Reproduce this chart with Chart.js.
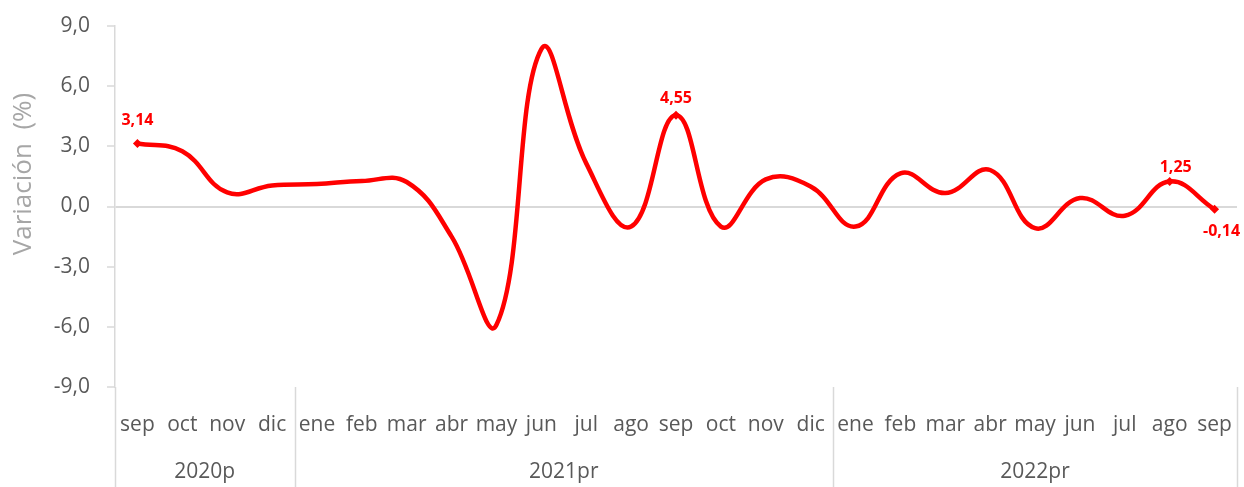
<!DOCTYPE html>
<html>
<head>
<meta charset="utf-8">
<script src="https://cdn.jsdelivr.net/npm/chart.js@4.4.0/dist/chart.umd.min.js"></script>
<style>
  html, body { margin: 0; padding: 0; background: #fff; }
  #wrap { width: 1244px; height: 487px; }
</style>
</head>
<body>
<div id="wrap"><canvas id="line-chart" width="1244" height="487"></canvas></div>
<script>
// meses (sep 2020 - sep 2022)
const months = [
  "sep", "oct", "nov", "dic",
  "ene", "feb", "mar", "abr", "may", "jun", "jul", "ago", "sep", "oct", "nov", "dic",
  "ene", "feb", "mar", "abr", "may", "jun", "jul", "ago", "sep",
];
// grupos de años: [etiqueta, cantidad de meses]
const years = ["2020p", "2021pr", "2022pr"];
const yearCounts = [4, 12, 9];

// variación mensual (%)
const variation = [
  3.14, 2.75, 0.7, 1.05,
  1.12, 1.27, 1.22, -1.5, -5.9, 7.85, 2.15, -1.0, 4.55, -1.0, 1.35, 1.0,
  -1.0, 1.65, 0.67, 1.82, -1.08, 0.42, -0.46, 1.25, -0.14,
];
// puntos con etiqueta
const labeledIdx = [0, 12, 23, 24];

const yTicks = [-9, -6, -3, 0, 3, 6, 9];

const RED = "#ff0000";
const GRID = "#d9d9d9";
const TEXT = "#595959";
const FONT = "'Open Sans', 'Noto Sans', sans-serif";

const fmt = (v, d) => v.toFixed(d).replace(".", ",");

// etiquetas de datos, ejes de grupo y título del eje
const extrasPlugin = {
  id: "extras",
  afterDraw(chart) {
    const ctx = chart.ctx;
    const area = chart.chartArea;
    const x = chart.scales.x;
    const bottom = chart.height;

    ctx.save();
    // líneas separadoras de la categoría multinivel
    ctx.strokeStyle = GRID;
    ctx.lineWidth = 1.5;
    const seps = [area.left];
    let acc = 0;
    yearCounts.forEach((n, i) => {
      acc += n;
      if (i < yearCounts.length - 1) {
        seps.push((x.getPixelForValue(acc - 1) + x.getPixelForValue(acc)) / 2);
      }
    });
    seps.push(area.right);
    seps.forEach((sx) => {
      ctx.beginPath();
      ctx.moveTo(Math.round(sx) + 0.5, area.bottom);
      ctx.lineTo(Math.round(sx) + 0.5, bottom);
      ctx.stroke();
    });

    // años
    ctx.fillStyle = TEXT;
    ctx.font = "21px " + FONT;
    ctx.textAlign = "center";
    ctx.textBaseline = "middle";
    for (let i = 0; i < years.length; i++) {
      ctx.fillText(years[i], (seps[i] + seps[i + 1]) / 2, 472);
    }

    // título eje Y
    ctx.save();
    ctx.translate(24, 174);
    ctx.rotate(-Math.PI / 2);
    ctx.fillStyle = "#a6a6a6";
    ctx.font = "26px " + FONT;
    ctx.fillText("Variación  (%)", 0, 0);
    ctx.restore();

    // etiquetas de datos
    const meta = chart.getDatasetMeta(0);
    const offsets = { 0: [0, -23], 12: [0, -17], 23: [6, -14], 24: [7, 22] };
    ctx.fillStyle = RED;
    ctx.font = "bold 16px " + FONT;
    labeledIdx.forEach((i) => {
      const p = meta.data[i];
      const o = offsets[i];
      ctx.fillText(fmt(variation[i], 2), p.x + o[0], p.y + o[1]);
    });
    ctx.restore();
  },
};

new Chart(document.getElementById("line-chart"), {
  type: "line",
  data: {
    labels: months,
    datasets: [
      {
        label: "Variación",
        data: variation,
        borderColor: RED,
        backgroundColor: RED,
        borderWidth: 4.5,
        tension: 0.42,
        pointStyle: "rectRot",
        pointRadius: (c) => (labeledIdx.includes(c.dataIndex) ? 4.5 : 0),
        pointBorderWidth: 0,
        pointBackgroundColor: RED,
      },
    ],
  },
  options: {
    responsive: false,
    animation: false,
    layout: { padding: { top: 26, right: 7, left: 0, bottom: 0 } },
    plugins: {
      legend: { display: false },
      tooltip: { enabled: false },
      title: { display: false },
    },
    scales: {
      x: {
        offset: true,
        grid: { display: false, drawTicks: false, tickLength: 0 },
        border: { display: false },
        ticks: {
          autoSkip: false,
          maxRotation: 0,
          padding: 25,
          color: TEXT,
          font: { family: FONT, size: 21 },
        },
        afterFit(scale) {
          scale.height = 100;
          scale.paddingLeft = 0;
          scale.paddingRight = 0;
        },
      },
      y: {
        min: -9,
        max: 9,
        afterBuildTicks(scale) {
          scale.ticks = yTicks.map((v) => ({ value: v }));
        },
        grid: {
          color: (c) => (c.tick && c.tick.value === 0 ? GRID : "rgba(0,0,0,0)"),
          lineWidth: 2,
          tickColor: GRID,
          tickLength: 8,
          tickWidth: 1.5,
        },
        border: { display: true, color: GRID, width: 1.5 },
        ticks: {
          padding: 17,
          color: TEXT,
          font: { family: FONT, size: 21 },
          callback: (v) => fmt(v, 1),
        },
        afterFit(scale) {
          scale.width = 115;
          scale.paddingTop = 0;
          scale.paddingBottom = 0;
        },
      },
    },
  },
  plugins: [extrasPlugin],
});
</script>
</body>
</html>
